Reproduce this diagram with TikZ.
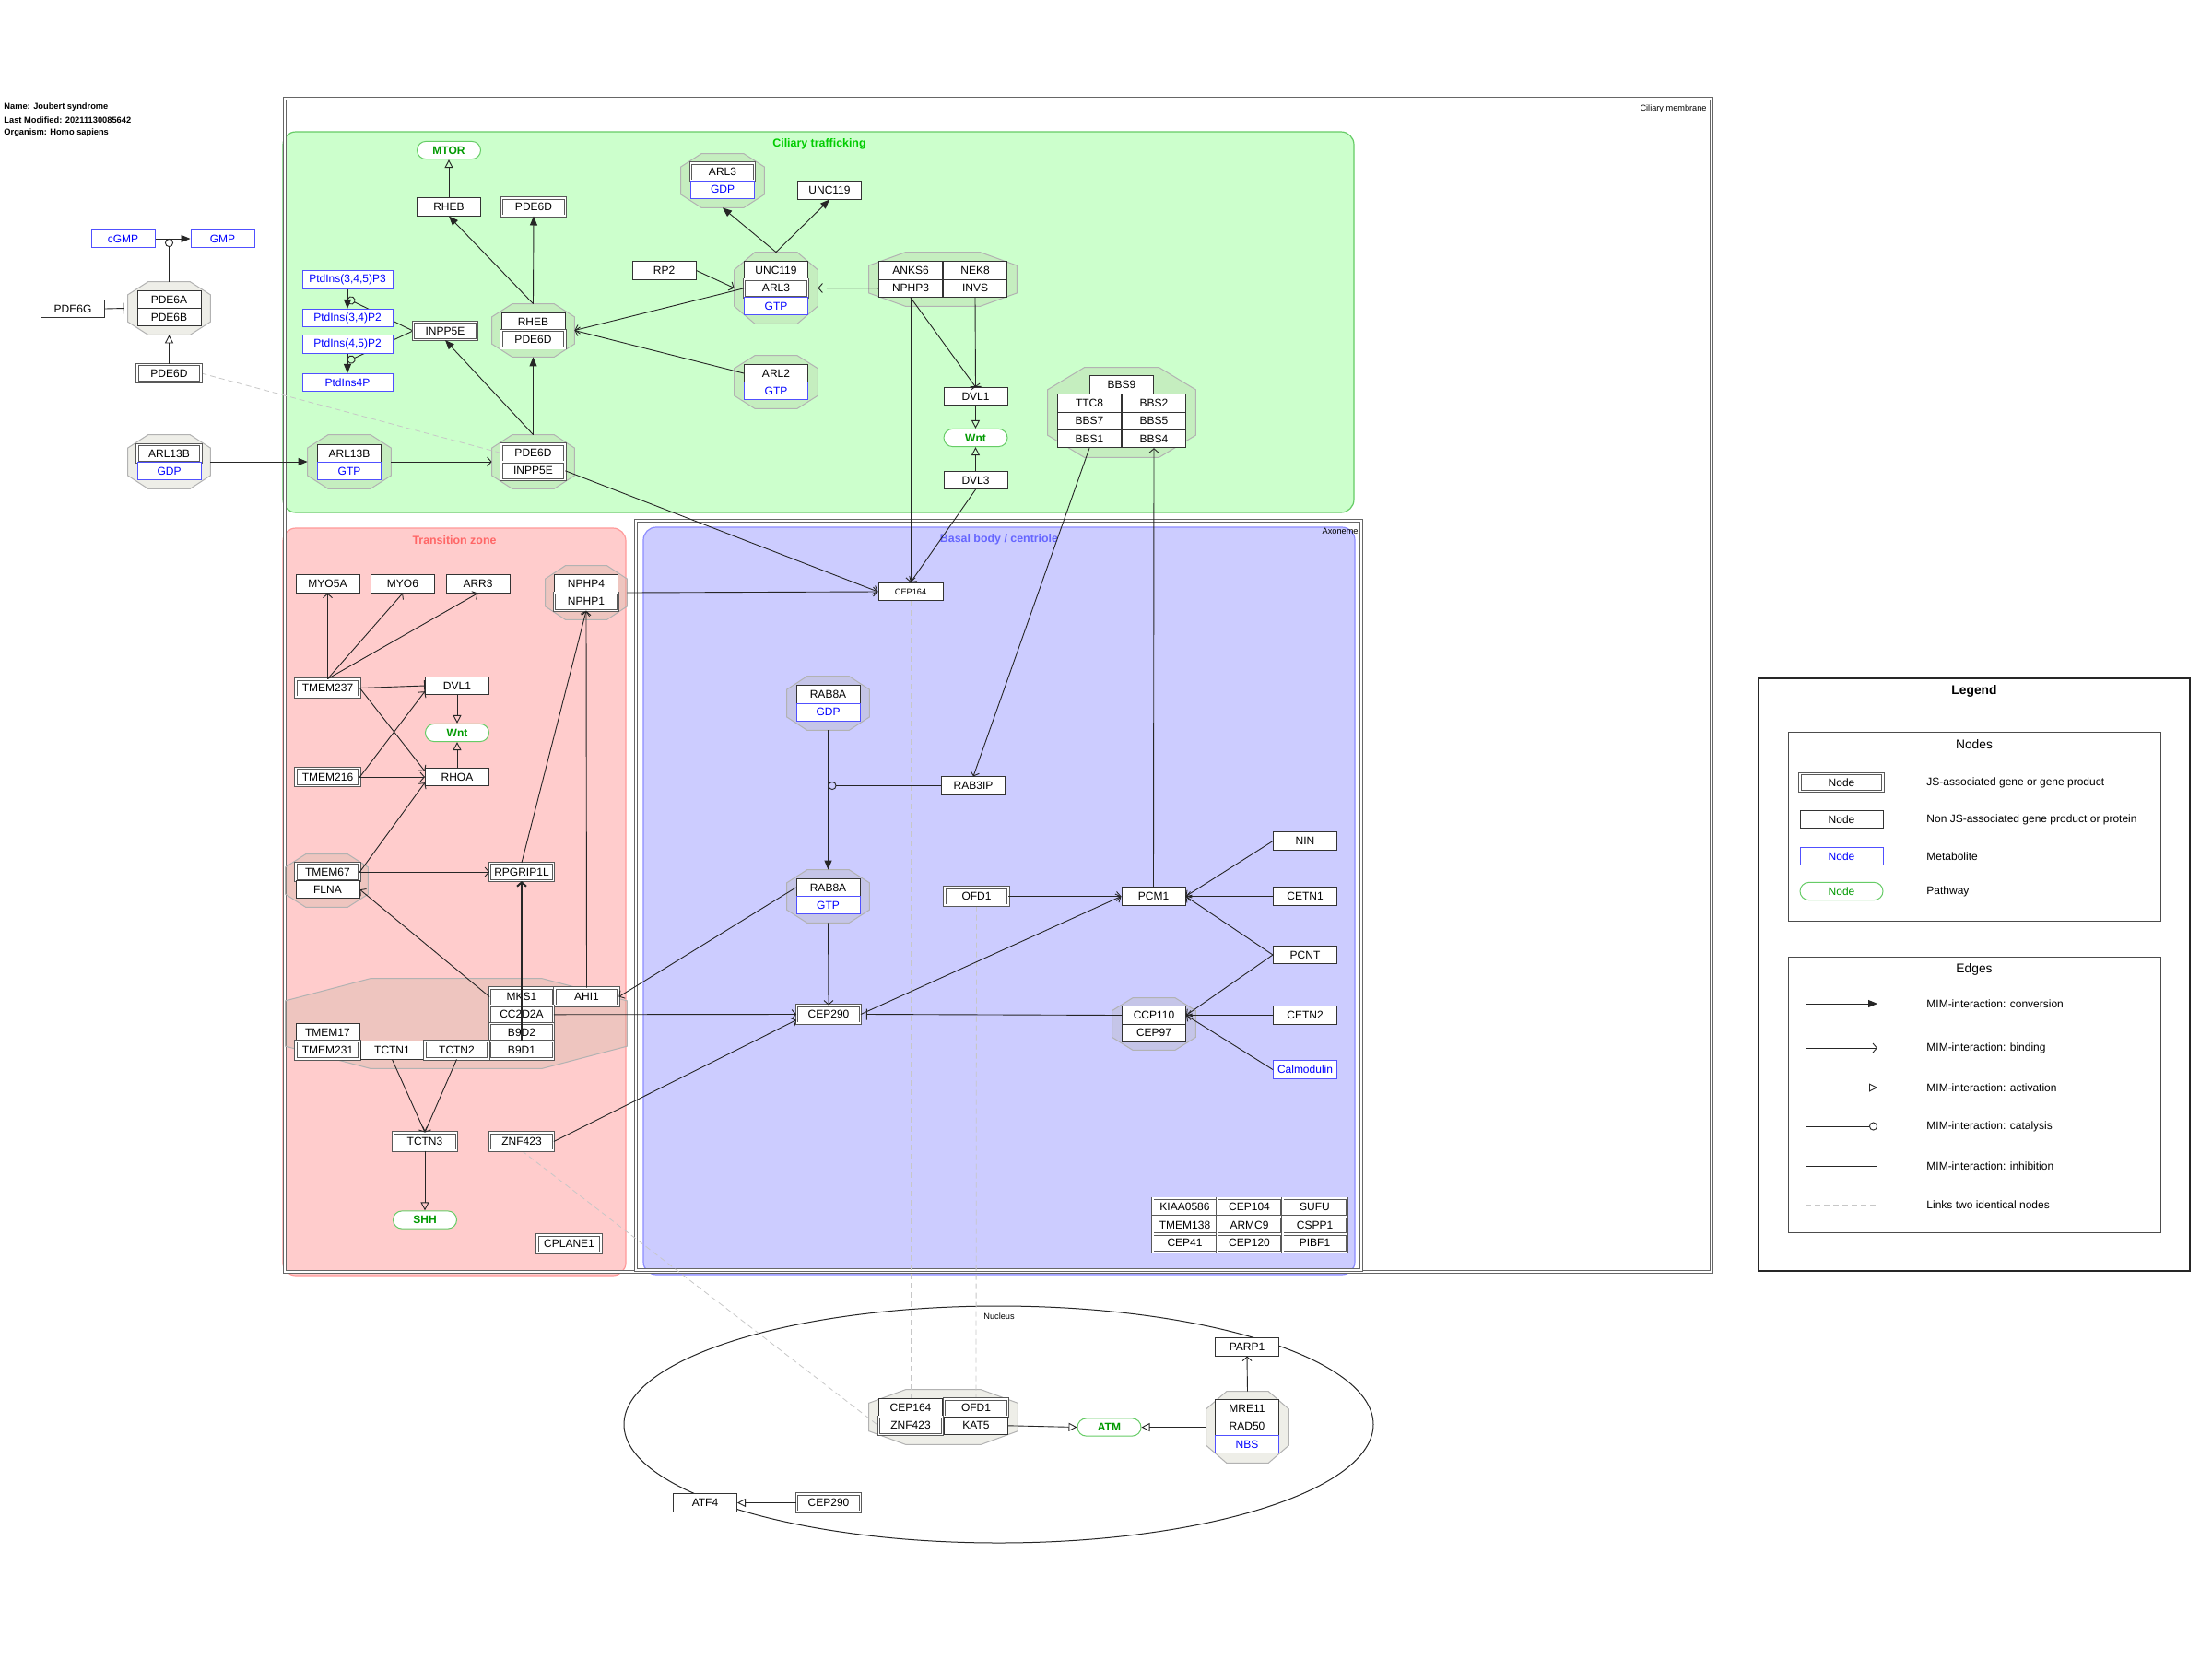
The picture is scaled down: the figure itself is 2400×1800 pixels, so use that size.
\documentclass[tikz,border=0pt]{standalone}
\usepackage{fontspec}
\setmainfont{Liberation Sans}
\usetikzlibrary{arrows.meta, shapes.misc}
\pgfdeclarelayer{regions}
\pgfdeclarelayer{back}
\pgfsetlayers{regions,back,main}
\definecolor{ctGreenFill}{RGB}{204,255,204}
\definecolor{ctGreenLine}{RGB}{102,204,102}
\definecolor{ctGreenText}{RGB}{0,204,0}
\definecolor{tzPinkFill}{RGB}{255,204,204}
\definecolor{tzPinkLine}{RGB}{255,153,153}
\definecolor{tzPinkText}{RGB}{255,102,102}
\definecolor{bbBlueFill}{RGB}{204,204,255}
\definecolor{bbBlueLine}{RGB}{140,140,255}
\definecolor{bbBlueText}{RGB}{102,102,255}
\definecolor{metaBlue}{RGB}{0,0,255}
\definecolor{metaLine}{RGB}{80,80,255}
\definecolor{pathGreen}{RGB}{0,153,0}
\definecolor{pathLine}{RGB}{102,204,102}
\definecolor{cplxFill}{RGB}{170,170,140}
\newcommand{\boxfont}{\fontsize{6}{7}\selectfont}
\newcommand{\ttlfont}{\fontsize{6.2}{7}\selectfont\bfseries}
\newcommand{\smlfont}{\fontsize{4.6}{5.5}\selectfont}
\newcommand{\hdrfont}{\fontsize{4.65}{5.5}\selectfont\bfseries}
\newcommand{\lgdfont}{\fontsize{6.9}{8}\selectfont}
\begin{document}
\begin{tikzpicture}[
      x=0.5pt, y=-0.5pt,
      every node/.style={font=\boxfont, inner sep=0pt},
      genebox/.style={rectangle, draw=black!80, fill=white, line width=0.5pt, minimum width=34.5pt, minimum height=9.6pt},
      jsbox/.style={genebox, draw=black!65, double=white, double distance=0.8pt, line width=0.4pt},
      metabox/.style={genebox, draw=metaLine, text=metaBlue},
      pathbox/.style={rounded rectangle, draw=pathLine, fill=white, text=pathGreen, font=\boxfont\bfseries, line width=0.5pt, minimum width=34.5pt, minimum height=9.6pt},
      cplx/.style 2 args={rectangle, minimum width=#1*0.5pt, minimum height=#2*0.5pt},
      cplxshape/.style={draw=black!30, fill=cplxFill, fill opacity=0.2, draw opacity=1, line width=0.5pt},
      edgeline/.style={draw=black!85, line width=0.45pt},
      conv/.style={edgeline, -{Triangle[length=5pt, width=4pt]}},
      bind/.style={edgeline, -{Straight Barb[length=2.2pt, width=5pt]}},
      actv/.style={edgeline, -{Triangle[open, length=4.5pt, width=4.5pt]}},
      cata/.style={edgeline, -{Circle[open, length=4.5pt]}},
      inhib/.style={edgeline, -{Bar[width=6pt]}},
      samelink/.style={draw=black!22, line width=0.4pt, dash pattern=on 3pt off 2pt}
    ]
      \useasboundingbox (0,0) rectangle (2400,1800);

      % Compartments
      \begin{pgfonlayer}{regions}
        \fill[white] (0,0) rectangle (2400,1800);
        \draw[ctGreenLine, fill=ctGreenFill, line width=0.6pt, rounded corners=7pt] (307,143) rectangle (1469,556);
        \draw[tzPinkLine, fill=tzPinkFill, line width=0.6pt, rounded corners=7pt] (307,573) rectangle (679,1384);
        \draw[bbBlueLine, fill=bbBlueFill, line width=0.6pt, rounded corners=7pt] (698,572) rectangle (1470,1383);
        \draw[black!60, double=white, double distance=1pt, line width=0.45pt] (309,107) rectangle (1857,1380);
        \draw[black!60, double=white, double distance=1pt, line width=0.45pt] (690,565) rectangle (1477,1378);
        \draw[black!85, line width=0.5pt] (1083.5,1545.5) ellipse [x radius=406.5, y radius=128.5];
      \end{pgfonlayer}

      \node[font=\hdrfont, anchor=west] (hdrName) at (4,116) {Name: Joubert syndrome};
      \node[font=\hdrfont, anchor=west] (hdrDate) at (4,130) {Last Modified: 20211130085642};
      \node[font=\hdrfont, anchor=west] (hdrOrg) at (4,144) {Organism: Homo sapiens};
      \node[font=\ttlfont, text=ctGreenText] (ttlCT) at (889,156) {Ciliary trafficking};
      \node[font=\ttlfont, text=tzPinkText] (ttlTZ) at (493,586) {Transition zone};
      \node[font=\ttlfont, text=bbBlueText] (ttlBB) at (1084,585) {Basal body / centriole};
      \node[font=\smlfont, anchor=east] (ttlCM) at (1852,118) {Ciliary membrane};
      \node[font=\smlfont, anchor=east] (ttlAX) at (1474,576) {Axoneme};
      \node[font=\smlfont] (ttlNU) at (1084,1428) {Nucleus};

      % Left: PDE6 and ARL13B
      \node[metabox] (cgmp) at (133.5,259) {cGMP};
      \node[metabox] (gmp) at (241.5,259) {GMP};
      \node[cplx={89}{57}] (cxPDE6) at (183.5,334.5) {};
      \node[genebox] (pde6a) at (183.5,325) {PDE6A};
      \node[genebox] (pde6b) at (183.5,344.2) {PDE6B};
      \node[genebox] (pde6g) at (79,335) {PDE6G};
      \node[jsbox] (pde6dA) at (183.5,405) {PDE6D};
      \node[cplx={89}{58}] (cxArlGDP) at (183.5,501) {};
      \node[jsbox] (arl13bA) at (183.5,492) {ARL13B};
      \node[metabox] (gdpA) at (183.5,511.3) {GDP};
      \node[cplx={90}{58}] (cxArlGTP) at (379,501) {};
      \node[genebox] (arl13bB) at (379,492) {ARL13B};
      \node[metabox] (gtpA) at (379,511.3) {GTP};

      % Ciliary trafficking
      \node[pathbox] (mtor) at (487,163) {MTOR};
      \node[genebox] (rhebA) at (487,224.5) {RHEB};
      \node[jsbox] (pde6dB) at (579,224.5) {PDE6D};
      \node[metabox, minimum width=49pt] (pip3) at (377,303.5) {PtdIns(3,4,5)P3};
      \node[metabox, minimum width=49pt] (pi34) at (377,345) {PtdIns(3,4)P2};
      \node[metabox, minimum width=49pt] (pi45) at (377,373.5) {PtdIns(4,5)P2};
      \node[metabox, minimum width=49pt] (pi4p) at (377,415) {PtdIns4P};
      \node[jsbox] (inpp5eA) at (483,359) {INPP5E};
      \node[cplx={89}{57}] (cxRhebP) at (578.5,358.5) {};
      \node[genebox] (rhebB) at (578.5,349) {RHEB};
      \node[jsbox] (pde6dC) at (578.5,368.2) {PDE6D};
      \node[cplx={89}{58}] (cxPdeInp) at (578.5,501) {};
      \node[jsbox] (pde6dD) at (578.5,491.5) {PDE6D};
      \node[jsbox] (inpp5eB) at (578.5,510.8) {INPP5E};
      \node[cplx={90}{58}] (cxArl3GDP) at (784,196) {};
      \node[jsbox] (arl3A) at (784,186.5) {ARL3};
      \node[metabox] (gdpB) at (784,205.8) {GDP};
      \node[genebox] (unc119A) at (900,206.5) {UNC119};
      \node[genebox] (rp2) at (720.5,293.5) {RP2};
      \node[cplx={90}{77}] (cxUncArl) at (842,312.5) {};
      \node[genebox] (unc119B) at (842,293.5) {UNC119};
      \node[jsbox] (arl3B) at (842,312.8) {ARL3};
      \node[metabox] (gtpB) at (842,332.1) {GTP};
      \node[cplx={90}{57}] (cxArl2) at (842,414.5) {};
      \node[genebox] (arl2) at (842,405) {ARL2};
      \node[metabox] (gtpC) at (842,424.2) {GTP};
      \node[cplx={160}{58}] (cxNphp3) at (1023,303) {};
      \node[genebox] (anks6) at (988,293.5) {ANKS6};
      \node[genebox] (nek8) at (1058,293.5) {NEK8};
      \node[genebox] (nphp3) at (988,312.8) {NPHP3};
      \node[genebox] (invs) at (1058,312.8) {INVS};
      \node[genebox] (dvl1A) at (1058.5,430) {DVL1};
      \node[pathbox] (wntA) at (1058.5,475) {Wnt};
      \node[genebox] (dvl3) at (1058.5,521) {DVL3};
      \node[cplx={160}{97}] (cxBbs) at (1217,447.5) {};
      \node[genebox] (bbs9) at (1217,417.5) {BBS9};
      \node[genebox] (ttc8) at (1182,437.5) {TTC8};
      \node[genebox] (bbs2) at (1252,437.5) {BBS2};
      \node[genebox] (bbs7) at (1182,456.8) {BBS7};
      \node[genebox] (bbs5) at (1252,456.8) {BBS5};
      \node[genebox] (bbs1) at (1182,476.1) {BBS1};
      \node[genebox] (bbs4) at (1252,476.1) {BBS4};

      % Transition zone
      \node[genebox] (myo5a) at (355.5,633.5) {MYO5A};
      \node[genebox] (myo6) at (437,633.5) {MYO6};
      \node[genebox] (arr3) at (518.5,633.5) {ARR3};
      \node[cplx={88}{58}] (cxNphp) at (636,643) {};
      \node[genebox] (nphp4) at (636,633.4) {NPHP4};
      \node[jsbox] (nphp1) at (636,652.7) {NPHP1};
      \node[jsbox] (tmem237) at (355.5,746.5) {TMEM237};
      \node[genebox] (dvl1B) at (496,744) {DVL1};
      \node[pathbox] (wntB) at (496,795) {Wnt};
      \node[jsbox] (tmem216) at (355.5,843) {TMEM216};
      \node[genebox] (rhoa) at (496,843) {RHOA};
      \node[cplx={89}{57}] (cxTmem67) at (354.5,955.5) {};
      \node[jsbox] (tmem67) at (355.5,946) {TMEM67};
      \node[genebox] (flna) at (355.5,965.2) {FLNA};
      \node[jsbox] (rpgrip) at (566,946) {RPGRIP1L};
      \node[cplx={370}{97}] (cxMks) at (495,1110.5) {};
      \node[jsbox] (mks1) at (566,1081.5) {MKS1};
      \node[jsbox] (ahi1) at (636.5,1081.5) {AHI1};
      \node[jsbox] (cc2d2a) at (566,1100.8) {CC2D2A};
      \node[jsbox] (b9d2) at (566,1120.1) {B9D2};
      \node[jsbox] (b9d1) at (566,1139.4) {B9D1};
      \node[genebox] (tmem17) at (355.5,1120.1) {TMEM17};
      \node[jsbox] (tmem231) at (355.5,1139.4) {TMEM231};
      \node[genebox] (tctn1) at (425.5,1139.4) {TCTN1};
      \node[jsbox] (tctn2) at (495.5,1139.4) {TCTN2};
      \node[jsbox] (tctn3) at (461,1238.5) {TCTN3};
      \node[pathbox] (shh) at (461,1323.5) {SHH};
      \node[jsbox] (znf423A) at (566,1238.5) {ZNF423};
      \node[jsbox] (cplane1) at (617.5,1349.5) {CPLANE1};

      % Basal body / centriole
      \node[genebox, font=\smlfont, minimum width=35pt] (cep164A) at (988,642) {CEP164};
      \node[cplx={89}{58}] (cxRabGDP) at (898.5,763) {};
      \node[genebox] (rab8aA) at (898.5,753.5) {RAB8A};
      \node[metabox] (gdpC) at (898.5,772.8) {GDP};
      \node[genebox] (rab3ip) at (1056,852.5) {RAB3IP};
      \node[cplx={89}{57}] (cxRabGTP) at (898.5,972.5) {};
      \node[genebox] (rab8aB) at (898.5,963) {RAB8A};
      \node[metabox] (gtpD) at (898.5,982.2) {GTP};
      \node[jsbox] (ofd1A) at (1059.5,972.5) {OFD1};
      \node[genebox] (pcm1) at (1251.5,972.5) {PCM1};
      \node[genebox] (nin) at (1416,912.5) {NIN};
      \node[genebox] (cetn1) at (1416,972.5) {CETN1};
      \node[genebox] (pcnt) at (1416,1036) {PCNT};
      \node[genebox] (cetn2) at (1416,1101.5) {CETN2};
      \node[metabox] (calm) at (1416,1160.5) {Calmodulin};
      \node[jsbox] (cep290A) at (899,1100.5) {CEP290};
      \node[cplx={90}{56}] (cxCcp) at (1252,1111) {};
      \node[genebox] (ccp110) at (1252,1101.5) {CCP110};
      \node[genebox] (cep97) at (1252,1120.8) {CEP97};
      \node[jsbox, minimum width=34.8pt] (kiaa) at (1285.5,1309.8) {KIAA0586};
      \node[jsbox, minimum width=34.8pt] (cep104) at (1355.5,1309.8) {CEP104};
      \node[jsbox, minimum width=34.8pt] (sufu) at (1426.5,1309.8) {SUFU};
      \node[jsbox, minimum width=34.8pt] (tmem138) at (1285.5,1329.3) {TMEM138};
      \node[jsbox, minimum width=34.8pt] (armc9) at (1355.5,1329.3) {ARMC9};
      \node[jsbox, minimum width=34.8pt] (cspp1) at (1426.5,1329.3) {CSPP1};
      \node[jsbox, minimum width=34.8pt] (cep41) at (1285.5,1348.8) {CEP41};
      \node[jsbox, minimum width=34.8pt] (cep120) at (1355.5,1348.8) {CEP120};
      \node[jsbox, minimum width=34.8pt] (pibf1) at (1426.5,1348.8) {PIBF1};

      % Nucleus
      \node[cplx={161}{59}] (cxNuc) at (1023.5,1537.5) {};
      \node[genebox] (cep164B) at (988,1527.5) {CEP164};
      \node[jsbox] (ofd1B) at (1059,1527.5) {OFD1};
      \node[jsbox] (znf423B) at (988,1546.8) {ZNF423};
      \node[genebox] (kat5) at (1059,1546.8) {KAT5};
      \node[pathbox] (atm) at (1203.5,1548.5) {ATM};
      \node[cplx={89}{77}] (cxMre) at (1353.5,1548.5) {};
      \node[genebox] (mre11) at (1353,1528.5) {MRE11};
      \node[genebox] (rad50) at (1353,1547.8) {RAD50};
      \node[metabox] (nbs) at (1353,1567.1) {NBS};
      \node[genebox] (parp1) at (1353,1461.5) {PARP1};
      \node[genebox] (atf4) at (765,1630.5) {ATF4};
      \node[jsbox] (cep290B) at (899,1630.5) {CEP290};

      % Anchor points on conversions
      \coordinate (ancGmp) at (183.5,259);
      \coordinate (ancPi34) at (377,324);
      \coordinate (ancPi4p) at (377,392);
      \coordinate (ancRab) at (898.5,852.5);

      % Complex outlines, links between identical nodes, lines behind boxes
      \begin{pgfonlayer}{back}
        \foreach \cx/\w/\h in {cxPDE6/89/57, cxArlGDP/89/58, cxArlGTP/90/58, cxRhebP/89/57, cxPdeInp/89/58,
            cxArl3GDP/90/58, cxUncArl/90/77, cxArl2/90/57, cxNphp3/160/58, cxBbs/160/97, cxNphp/88/58,
            cxTmem67/89/57, cxMks/370/97, cxRabGDP/89/58, cxRabGTP/89/57, cxCcp/90/56, cxNuc/161/59, cxMre/89/77}{
          \draw[cplxshape] ([xshift=\w*0.125pt]\cx.north west) -- ([xshift=-\w*0.125pt]\cx.north east)
            -- ([yshift=-\h*0.125pt]\cx.north east) -- ([yshift=\h*0.125pt]\cx.south east)
            -- ([xshift=-\w*0.125pt]\cx.south east) -- ([xshift=\w*0.125pt]\cx.south west)
            -- ([yshift=\h*0.125pt]\cx.south west) -- ([yshift=-\h*0.125pt]\cx.north west) -- cycle;
        }
        \draw[samelink] (pde6dA.east) -- (pde6dD.west);
        \draw[samelink] (znf423A.south) -- (znf423B.west);
        \draw[samelink] (cep290A.south) -- (cep290B.north);
        \draw[samelink] (cep164A.south) -- (cep164B.north);
        \draw[samelink] (ofd1A.south) -- (ofd1B.north);
        \draw[cata] (inpp5eA.west) -- (ancPi34);
        \draw[cata] (inpp5eA.west) -- (ancPi4p);
      \end{pgfonlayer}

      % Connecting Arrows: left side
      \draw[conv] (cgmp) -- (gmp);
      \draw[cata] (cxPDE6.north) -- (ancGmp);
      \draw[inhib] (pde6g.east) -- ([xshift=-2pt]cxPDE6.west);
      \draw[actv] (pde6dA.north) -- (cxPDE6.south);
      \draw[conv] (cxArlGDP.east) -- (cxArlGTP.west);
      \draw[bind] (cxArlGTP.east) -- (cxPdeInp.west);

      % Ciliary trafficking
      \draw[conv] (pip3.south) -- (pi34.north);
      \draw[conv] (pi45.south) -- (pi4p.north);
      \draw[actv] (rhebA.north) -- (mtor.south);
      \draw[conv] (cxRhebP.north) -- (pde6dB.south);
      \draw[conv] (cxRhebP.north) -- (rhebA.south);
      \draw[conv] (cxPdeInp.north) -- (cxRhebP.south);
      \draw[conv] (cxPdeInp.north) -- (inpp5eA.south);
      \draw[conv] (cxUncArl.north) -- (cxArl3GDP.south);
      \draw[conv] (cxUncArl.north) -- (unc119A.south);
      \draw[bind] (rp2.east) -- (cxUncArl.west);
      \draw[bind] (arl3B.west) -- (cxRhebP.east);
      \draw[bind] (arl2.west) -- (cxRhebP.east);
      \draw[bind] (nphp3.west) -- (cxUncArl.east);
      \draw[bind] (nphp3.south) -- (cep164A.north);
      \draw[inhib] (nphp3.south) -- (dvl1A.north);
      \draw[inhib] (invs.south) -- (dvl1A.north);
      \draw[actv] (dvl1A.south) -- (wntA.north);
      \draw[actv] (dvl3.north) -- (wntA.south);
      \draw[bind] (dvl3.south) -- (cep164A.north);
      \draw[bind] (inpp5eB.east) -- (cep164A.west);
      \draw[bind] (bbs1.south) -- (rab3ip.north);

      % Transition zone
      \draw[bind] (cxNphp.east) -- (cep164A.west);
      \draw[bind] (tmem237.north) -- (myo5a.south);
      \draw[bind] (tmem237.north) -- (myo6.south);
      \draw[bind] (tmem237.north) -- (arr3.south);
      \draw[inhib] (tmem237.east) -- (dvl1B.west);
      \draw[bind] (tmem237.east) -- (rhoa.170);
      \draw[bind] (tmem216.east) -- (dvl1B.190);
      \draw[bind] (tmem216.east) -- (rhoa.west);
      \draw[bind] (tmem67.east) -- (rhoa.190);
      \draw[actv] (dvl1B.south) -- (wntB.north);
      \draw[actv] (rhoa.north) -- (wntB.south);
      \draw[bind] (tmem67.east) -- (rpgrip.west);
      \draw[bind, {Straight Barb[length=2.2pt, width=5pt]}-] (nphp1.south) -- (rpgrip.north);
      \draw[bind] (ahi1.north) -- (nphp1.south);
      \draw[bind] (mks1.west) -- (flna.east);
      \draw[bind, line width=1pt] (b9d2.south) -- (rpgrip.south);
      \draw[bind] (tctn1.south) -- (tctn3.north);
      \draw[bind] (tctn2.south) -- (tctn3.north);
      \draw[actv] (tctn3.south) -- (shh.north);
      \draw[bind] (cc2d2a.east) -- (cep290A.west);
      \draw[bind] (znf423A.east) -- (cep290A.190);

      % Basal body / centriole
      \draw[conv] (cxRabGDP.south) -- (cxRabGTP.north);
      \draw[cata] (rab3ip.west) -- (ancRab);
      \draw[bind] (cxRabGTP.south) -- (cep290A.north);
      \draw[bind] (rab8aB.west) -- (ahi1.east);
      \draw[bind] (ofd1A.east) -- (pcm1.west);
      \draw[bind] (pcm1.north) -- (bbs4.south);
      \draw[bind] (nin.west) -- (pcm1.east);
      \draw[bind] (cetn1.west) -- (pcm1.east);
      \draw[bind] (pcnt.west) -- (pcm1.east);
      \draw[bind] (pcnt.west) -- (ccp110.east);
      \draw[bind] (cetn2.west) -- (ccp110.east);
      \draw[bind] (calm.west) -- (ccp110.east);
      \draw[bind] (cep290A.east) -- (pcm1.west);
      \draw[inhib] (ccp110.west) -- ([xshift=3pt]cep290A.east);

      % Nucleus
      \draw[actv] (kat5.east) -- (atm.west);
      \draw[actv] (cxMre.west) -- (atm.east);
      \draw[bind] (cxMre.north) -- (parp1.south);
      \draw[actv] (cep290B.west) -- (atf4.east);

      % Legend
      \draw[black!85, line width=0.6pt] (1908,736) rectangle (2376,1379);
      \draw[black!70, line width=0.5pt] (1940,794) rectangle (2344,999);
      \draw[black!70, line width=0.5pt] (1940,1038) rectangle (2344,1337);
      \node[font=\lgdfont\bfseries] (lgdTitle) at (2142,750) {Legend};
      \node[font=\lgdfont] (lgdNodes) at (2142,808) {Nodes};
      \node[font=\lgdfont] (lgdEdges) at (2142,1052) {Edges};
      \node[jsbox, minimum width=45pt] (lgJs) at (1998,849) {Node};
      \node[genebox, minimum width=45pt] (lgGene) at (1998,889) {Node};
      \node[metabox, minimum width=45pt] (lgMeta) at (1998,929) {Node};
      \node[pathbox, font=\boxfont, minimum width=45pt] (lgPath) at (1998,967) {Node};
      \node[anchor=west] (lgJsT) at (2090,849) {JS-associated gene or gene product};
      \node[anchor=west] (lgGeneT) at (2090,889) {Non JS-associated gene product or protein};
      \node[anchor=west] (lgMetaT) at (2090,929) {Metabolite};
      \node[anchor=west] (lgPathT) at (2090,967) {Pathway};
      \foreach \kind/\yy/\txt [count=\i] in {conv/1089/conversion, bind/1137/binding, actv/1180/activation, cata/1222/catalysis, inhib/1265/inhibition}{
        \coordinate (lgA\i) at (1959,\yy);
        \coordinate (lgB\i) at (2037,\yy);
        \draw[\kind] (lgA\i) -- (lgB\i);
        \node[anchor=west] (lgT\i) at (2090,\yy) {MIM-interaction: \txt};
      }
      \coordinate (lgA6) at (1959,1307);
      \coordinate (lgB6) at (2037,1307);
      \draw[samelink] (lgA6) -- (lgB6);
      \node[anchor=west] (lgT6) at (2090,1307) {Links two identical nodes};
    \end{tikzpicture}
\end{document}
